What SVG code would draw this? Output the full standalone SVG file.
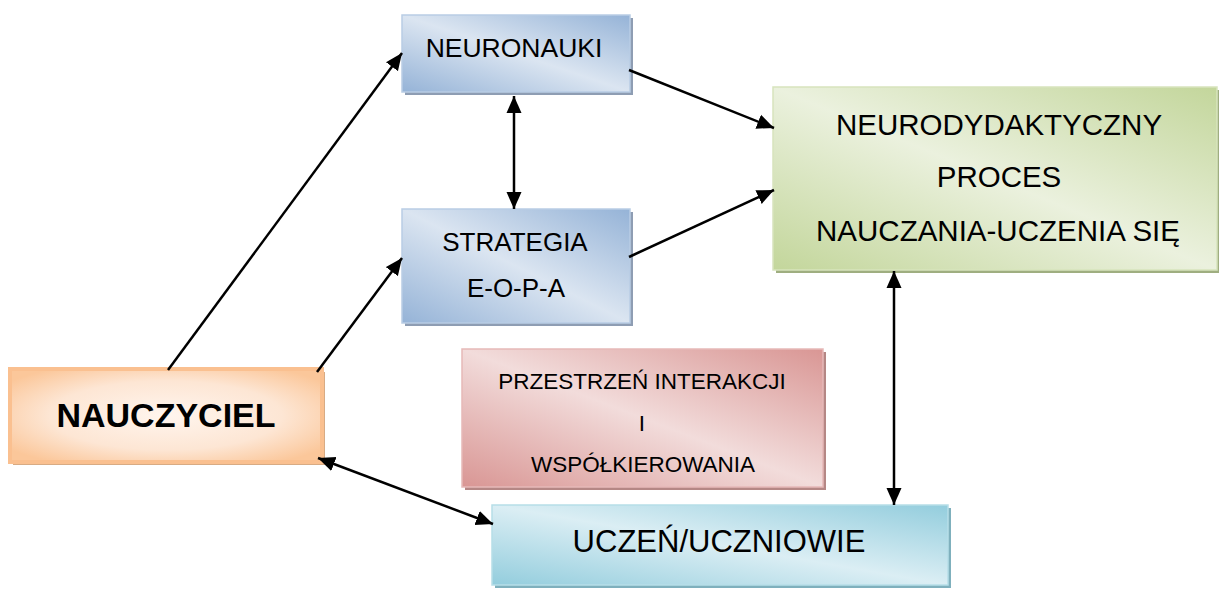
<svg xmlns="http://www.w3.org/2000/svg" width="1219" height="589" viewBox="0 0 1219 589">
<style>
text{font-family:"Liberation Sans",Arial,sans-serif;fill:#000;text-anchor:middle}
.c{stroke:#000;stroke-width:2.5;fill:none}
.sb{fill:#8e9db3}.so{fill:#d8ab84}.sg{fill:#9fae80}.sp{fill:#b58785}.sc{fill:#7fb0bd}
</style>
<defs>
<linearGradient id="gb" x1="0" y1="1" x2="1" y2="0"><stop offset="0" stop-color="#95b3d7"/><stop offset="0.5" stop-color="#dbe5f1"/><stop offset="1" stop-color="#95b3d7"/></linearGradient>
<radialGradient id="go" cx="0.5" cy="0.5" r="0.62"><stop offset="0" stop-color="#fff5ee"/><stop offset="0.6" stop-color="#fde6d4"/><stop offset="1" stop-color="#fbc79a"/></radialGradient>
<linearGradient id="gg" x1="0" y1="1" x2="1" y2="0"><stop offset="0" stop-color="#c3d69b"/><stop offset="0.5" stop-color="#ebf1de"/><stop offset="1" stop-color="#c3d69b"/></linearGradient>
<linearGradient id="gp" x1="0" y1="1" x2="1" y2="0"><stop offset="0" stop-color="#d99694"/><stop offset="0.5" stop-color="#f2dcdb"/><stop offset="1" stop-color="#d99694"/></linearGradient>
<linearGradient id="gc" x1="0" y1="1" x2="1" y2="0"><stop offset="0" stop-color="#93cddd"/><stop offset="0.5" stop-color="#dbeef4"/><stop offset="1" stop-color="#93cddd"/></linearGradient>
<marker id="ah" markerUnits="userSpaceOnUse" markerWidth="18" markerHeight="16" refX="17" refY="8" orient="auto-start-reverse"><path d="M0,0.5 L17,8 L0,15.5 z" fill="#000"/></marker>
</defs>
<g id="n-neuronauki">
<rect class="sb" x="405" y="18" width="228" height="77"/>
<rect x="402" y="15" width="228" height="77" fill="url(#gb)" stroke="#b9cde5" stroke-width="1.5"/>
<text x="514" y="57" font-size="26.5">NEURONAUKI</text>
</g>
<g id="n-strategia">
<rect class="sb" x="405" y="212" width="228" height="114"/>
<rect x="402" y="209" width="228" height="114" fill="url(#gb)" stroke="#b9cde5" stroke-width="1.5"/>
<text x="515" y="251" font-size="26">STRATEGIA</text>
<text x="516" y="297" font-size="26">E-O-P-A</text>
</g>
<g id="n-nauczyciel">
<rect class="so" x="13" y="372" width="312" height="93"/>
<rect x="10" y="369" width="312" height="93" fill="url(#go)" stroke="#fac090" stroke-width="4"/>
<text x="166" y="427" font-size="34" font-weight="bold">NAUCZYCIEL</text>
</g>
<g id="n-proces">
<rect class="sg" x="776" y="90" width="444" height="183"/>
<rect x="773" y="87" width="444" height="183" fill="url(#gg)" stroke="#d7e4bd" stroke-width="1.5"/>
<text x="999" y="135" font-size="29.5">NEURODYDAKTYCZNY</text>
<text x="999" y="187" font-size="29.5">PROCES</text>
<text x="998" y="241" font-size="29.5">NAUCZANIA-UCZENIA SIĘ</text>
</g>
<g id="n-przestrzen">
<rect class="sp" x="465" y="352" width="361" height="138"/>
<rect x="462" y="349" width="361" height="138" fill="url(#gp)" stroke="#e6b9b8" stroke-width="1.5"/>
<text x="642" y="389" font-size="22.5">PRZESTRZEŃ INTERAKCJI</text>
<text x="642" y="431" font-size="22.5">I</text>
<text x="643" y="472" font-size="22.5">WSPÓŁKIEROWANIA</text>
</g>
<g id="n-uczen">
<rect class="sc" x="495" y="508" width="456" height="80"/>
<rect x="492" y="505" width="456" height="80" fill="url(#gc)" stroke="#b7dee8" stroke-width="1.5"/>
<text x="719" y="552" font-size="31">UCZEŃ/UCZNIOWIE</text>
</g>
<g id="connectors">
<line class="c" x1="168" y1="370" x2="402" y2="53" marker-end="url(#ah)"/>
<line class="c" x1="317" y1="372" x2="402" y2="258" marker-end="url(#ah)"/>
<line class="c" x1="629" y1="70" x2="774" y2="128" marker-end="url(#ah)"/>
<line class="c" x1="629" y1="257" x2="774" y2="190" marker-end="url(#ah)"/>
<line class="c" x1="318" y1="458" x2="493" y2="524" marker-start="url(#ah)" marker-end="url(#ah)"/>
<line class="c" x1="894" y1="271" x2="894" y2="505" marker-start="url(#ah)" marker-end="url(#ah)"/>
<line class="c" x1="514" y1="96" x2="514" y2="209" marker-start="url(#ah)" marker-end="url(#ah)"/>
</g>
</svg>
